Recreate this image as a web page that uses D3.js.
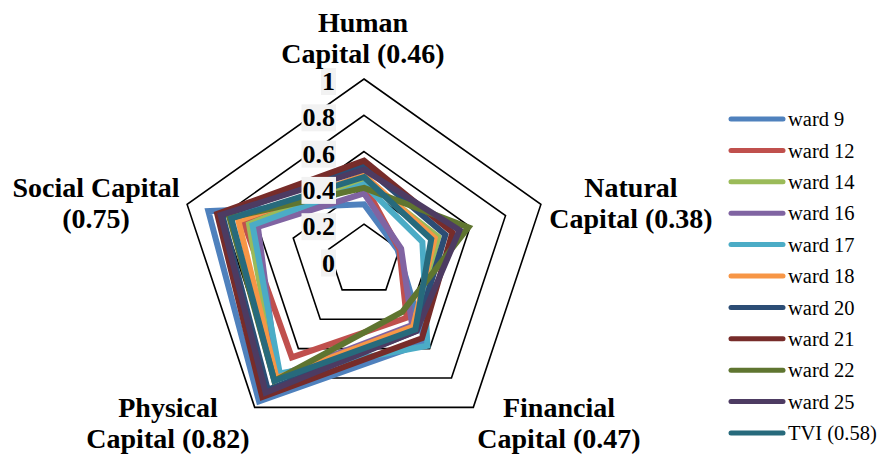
<!DOCTYPE html>
<html>
<head>
<meta charset="utf-8">
<script src="https://cdn.jsdelivr.net/npm/d3@7"></script>
<style>
  html, body { margin: 0; padding: 0; background: #fff; }
  svg { display: block; }
</style>
</head>
<body>
<svg id="chart" width="881" height="457"></svg>
<script>
// ---- data ----
const axisLabels = [
  ["Human", "Capital (0.46)"],
  ["Natural", "Capital (0.38)"],
  ["Financial", "Capital (0.47)"],
  ["Physical", "Capital (0.82)"],
  ["Social Capital", "(0.75)"]
];
const seriesNames = ["ward 9", "ward 12", "ward 14", "ward 16", "ward 17", "ward 18",
                     "ward 20", "ward 21", "ward 22", "ward 25", "TVI (0.58)"];
// values per axis: Human, Natural, Financial, Physical, Social
const ward9  = [0.31, 0.19, 0.56, 0.96, 0.88];
const ward12 = [0.42, 0.20, 0.39, 0.66, 0.68];
const ward14 = [0.45, 0.42, 0.46, 0.80, 0.65];
const ward16 = [0.37, 0.21, 0.44, 0.79, 0.60];
const ward17 = [0.42, 0.33, 0.58, 0.77, 0.63];
const ward18 = [0.47, 0.40, 0.45, 0.80, 0.71];
const ward20 = [0.52, 0.46, 0.48, 0.88, 0.80];
const ward21 = [0.55, 0.50, 0.53, 0.93, 0.83];
const ward22 = [0.40, 0.59, 0.35, 0.82, 0.76];
const ward25 = [0.50, 0.54, 0.48, 0.90, 0.81];
const tvi    = [0.46, 0.38, 0.47, 0.82, 0.75];
const seriesValues = [ward9, ward12, ward14, ward16, ward17, ward18, ward20, ward21, ward22, ward25, tvi];
const tickValues = [0, 0.2, 0.4, 0.6, 0.8, 1];
const tickLabels = ["0", "0.2", "0.4", "0.6", "0.8", "1"];
const colors = ["#4F81BD", "#C0504D", "#9BBB59", "#8064A2", "#4BACC6", "#F79646",
                "#2C4D75", "#772C2A", "#5F7530", "#4D3B62", "#276A7C"];

// ---- layout ----
const svg = d3.select("#chart");
const cx = 364, cy = 260.5;
const r = d3.scaleLinear().domain([0, 1]).range([0, 181.5]);
const xStretch = 186 / 181.5;
const nAxes = axisLabels.length;
const angle = d3.scaleLinear().domain([0, nAxes]).range([0, 2 * Math.PI]);
function pt(i, v) {
  const a = angle(i);
  return [cx + Math.sin(a) * r(v) * xStretch, cy - Math.cos(a) * r(v)];
}
const line = d3.line().curve(d3.curveLinearClosed);

const serif = "'Liberation Serif', 'Times New Roman', serif";

// gridlines
const grid = svg.append("g");
tickValues.filter(t => t > 0).forEach(t => {
  grid.append("path")
    .attr("d", line(d3.range(nAxes).map(i => pt(i, t))))
    .attr("fill", "none")
    .attr("stroke", "#000")
    .attr("stroke-width", 1.6);
});

// series
const gSeries = svg.append("g");
seriesValues.forEach((vals, k) => {
  gSeries.append("path")
    .attr("d", line(vals.map((v, i) => pt(i, v))))
    .attr("fill", "none")
    .attr("stroke", colors[k])
    .attr("stroke-width", 6)
    .attr("stroke-linejoin", "miter");
});

// tick labels with grey background
const gTicks = svg.append("g");
tickValues.forEach((t, j) => {
  const y = cy - r(t) + 2;
  const txt = gTicks.append("text")
    .attr("x", 335)
    .attr("y", y)
    .attr("dy", "0.35em")
    .attr("text-anchor", "end")
    .attr("font-family", serif)
    .attr("font-weight", "bold")
    .attr("font-size", 26)
    .attr("fill", "#000")
    .text(tickLabels[j]);
  const bb = txt.node().getBBox();
  gTicks.insert("rect", "text")
    .attr("x", bb.x - 1)
    .attr("y", y - 13)
    .attr("width", bb.width + 2)
    .attr("height", 27)
    .attr("fill", "#f2f2f2");
});

// axis labels
const labelPos = [
  [363, 32], [631, 197], [559, 417], [168, 417], [96, 197]
];
const gLabels = svg.append("g");
axisLabels.forEach((lines, i) => {
  const t = gLabels.append("text")
    .attr("x", labelPos[i][0])
    .attr("y", labelPos[i][1])
    .attr("text-anchor", "middle")
    .attr("font-family", serif)
    .attr("font-weight", "bold")
    .attr("font-size", 28)
    .attr("fill", "#000");
  lines.forEach((s, k) => {
    t.append("tspan").attr("x", labelPos[i][0]).attr("dy", k === 0 ? 0 : 30.5).text(s);
  });
});

// legend
const legend = svg.append("g");
const ly = d3.scaleLinear().domain([0, seriesNames.length - 1]).range([119, 433]);
seriesNames.forEach((name, k) => {
  legend.append("line")
    .attr("x1", 731).attr("x2", 783)
    .attr("y1", ly(k)).attr("y2", ly(k))
    .attr("stroke", colors[k])
    .attr("stroke-width", 5)
    .attr("stroke-linecap", "round");
  legend.append("text")
    .attr("x", 788)
    .attr("y", ly(k))
    .attr("dy", "0.35em")
    .attr("font-family", serif)
    .attr("font-size", 20.5)
    .attr("fill", "#000")
    .text(name);
});
</script>
</body>
</html>
